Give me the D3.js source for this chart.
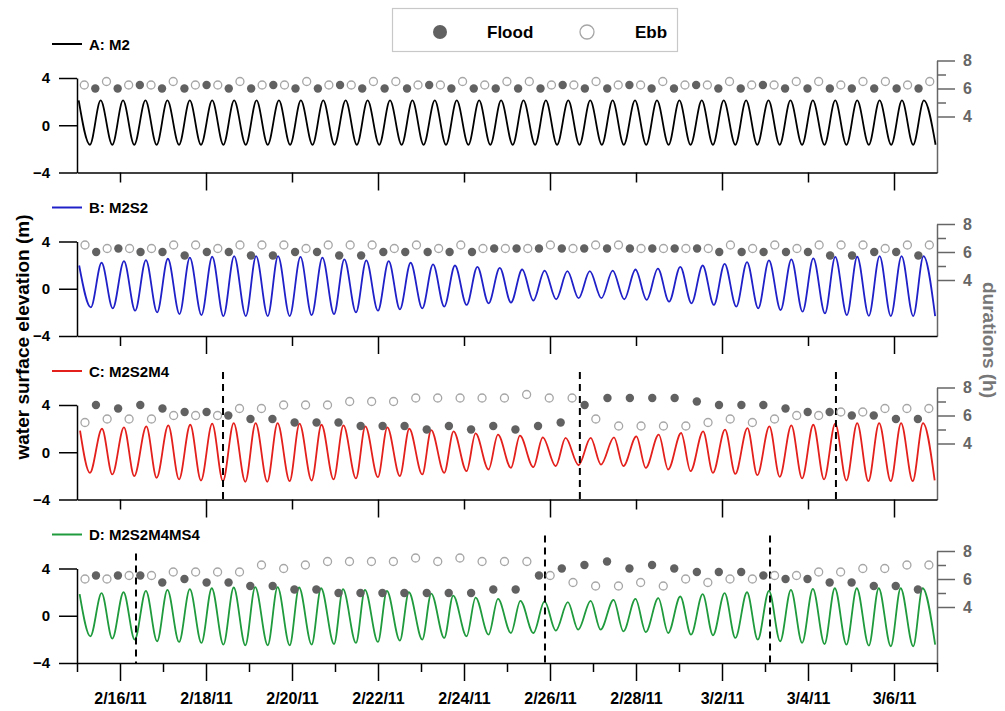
<!DOCTYPE html>
<html>
<head>
<meta charset="utf-8">
<script src="https://cdn.jsdelivr.net/npm/d3@7"></script>
<style>
  body { margin: 0; background: #fff; }
  text { font-family: "Liberation Sans", Arial, sans-serif; font-weight: bold; }
</style>
</head>
<body>
<div id="chart"></div>
<script>
// ---- data ----
var panelLabels = ['A: M2', 'B: M2S2', 'C: M2S2M4', 'D: M2S2M4MS4'];
var dateDomain = ['2011-02-15T00:00', '2011-03-07T00:00'];
var tickDates = ['2011-02-16', '2011-02-18', '2011-02-20', '2011-02-22', '2011-02-24',
                 '2011-02-26', '2011-02-28', '2011-03-02', '2011-03-04', '2011-03-06'];
var tickLabels = ['2/16/11', '2/18/11', '2/20/11', '2/22/11', '2/24/11',
                  '2/26/11', '2/28/11', '3/2/11', '3/4/11', '3/6/11'];
var elevTicks = [-4, 0, 4];
var durMajor = [4, 6, 8];
var durMinor = [5, 7];

// time of the first high water in each panel
var firstHigh = ['2011-02-15T00:57', '2011-02-15T01:13', '2011-02-15T01:42', '2011-02-15T01:28'];

// ebb / flood durations (h)
var ebbA = [6.25, 6.5, 6.25, 6.25, 6.5, 6.25, 6.25, 6.5, 6.25, 6.25, 6.5, 6.25, 6.25, 6.5, 6.5, 6.25, 6.25, 6.5, 6.25,
            6.5, 6.5, 6.25, 6.25, 6.5, 6.25, 6.25, 6.5, 6.25, 6.25, 6.5, 6.25, 6.25, 6.5, 6.5, 6.25, 6.5, 6.5, 6.25, 6.5];
var floodA = [6.0, 6.0, 6.25, 6.0, 6.0, 6.25, 6.0, 6.0, 6.25, 6.0, 6.0, 6.25, 6.0, 6.0, 6.0, 6.25, 6.0, 6.0, 6.0,
              6.0, 6.0, 6.25, 6.0, 6.0, 6.25, 6.0, 6.0, 6.25, 6.0, 6.0, 6.25, 6.0, 6.0, 6.0, 6.0, 6.0, 6.0, 6.0];
var ebbB = [6.5, 6.25, 6.25, 6.25, 6.5, 6.5, 6.25, 6.5, 6.5, 6.5, 6.25, 6.5, 6.5, 6.5, 6.25, 6.5, 6.25, 6.5, 6.25, 6.25,
            6.25, 6.5, 6.25, 6.5, 6.5, 6.25, 6.25, 6.25, 6.25, 6.5, 6.25, 6.5, 6.25, 6.5, 6.5, 6.5, 6.25, 6.5, 6.5];
var floodB = [6.0, 6.25, 6.0, 6.0, 5.75, 6.0, 6.0, 5.75, 5.75, 6.0, 6.0, 5.75, 5.75, 6.0, 6.0, 6.0, 6.0, 6.0, 6.25,
              6.25, 6.25, 6.25, 6.25, 6.25, 6.25, 6.25, 6.25, 6.25, 6.0, 6.0, 6.0, 6.0, 6.0, 5.75, 5.75, 6.0, 6.0, 5.75];
var ebbC = [5.5, 5.75, 5.75, 5.75, 6.0, 6.0, 6.0, 6.5, 6.5, 6.75, 6.75, 6.75, 7.0, 7.0, 7.0, 7.25, 7.25, 7.25, 7.25, 7.25,
            7.5, 7.25, 7.25, 5.75, 5.25, 5.25, 5.25, 5.25, 5.5, 5.75, 5.5, 5.75, 6.0, 6.0, 6.25, 6.25, 6.5, 6.5, 6.5];
var floodC = [6.75, 6.5, 6.75, 6.5, 6.25, 6.25, 6.0, 5.75, 5.75, 5.5, 5.5, 5.5, 5.25, 5.25, 5.25, 5.0, 5.25, 5.0, 5.25,
              5.0, 5.25, 5.5, 6.75, 7.25, 7.25, 7.25, 7.25, 7.0, 6.75, 6.75, 6.75, 6.5, 6.25, 6.25, 6.0, 6.0, 5.75, 5.75];
var ebbD = [6.0, 6.0, 6.25, 6.25, 6.5, 6.5, 6.5, 6.5, 7.0, 6.75, 7.0, 7.25, 7.25, 7.25, 7.25, 7.5, 7.25, 7.5, 7.25, 7.25,
            7.25, 6.25, 5.75, 5.5, 5.5, 5.75, 5.5, 6.0, 5.75, 6.0, 6.0, 6.25, 6.25, 6.5, 6.5, 6.75, 6.75, 7.0, 7.0];
var floodD = [6.25, 6.25, 6.25, 5.75, 6.0, 5.75, 5.75, 5.5, 5.5, 5.25, 5.25, 5.0, 5.0, 5.0, 5.0, 5.0, 5.0, 5.0, 5.25,
              5.25, 6.25, 6.75, 7.0, 7.25, 6.75, 7.0, 6.75, 6.5, 6.5, 6.5, 6.25, 6.0, 6.0, 5.75, 5.75, 5.5, 5.5, 5.25];

// high / low water levels (m)
var highA = [2.1, 2.1, 2.1, 2.1, 2.1, 2.1, 2.1, 2.1, 2.1, 2.1, 2.1, 2.1, 2.1, 2.1, 2.1, 2.1, 2.1, 2.1, 2.1, 2.1,
             2.1, 2.1, 2.1, 2.1, 2.1, 2.1, 2.1, 2.1, 2.1, 2.1, 2.1, 2.1, 2.1, 2.1, 2.1, 2.1, 2.1, 2.1, 2.1];
var lowA = [-1.65, -1.65, -1.65, -1.65, -1.65, -1.65, -1.65, -1.65, -1.65, -1.65, -1.65, -1.65, -1.65,
            -1.65, -1.65, -1.65, -1.65, -1.65, -1.65, -1.65, -1.65, -1.65, -1.65, -1.65, -1.65, -1.65,
            -1.65, -1.65, -1.65, -1.65, -1.65, -1.65, -1.65, -1.65, -1.65, -1.65, -1.65, -1.65, -1.65];
var highB = [1.97, 2.2, 2.34, 2.43, 2.54, 2.63, 2.71, 2.77, 2.77, 2.77, 2.69, 2.63, 2.49, 2.4, 2.34, 2.2, 2.06, 1.97, 1.86, 1.77,
             1.63, 1.54, 1.49, 1.49, 1.54, 1.63, 1.71, 1.86, 1.97, 2.11, 2.26, 2.4, 2.49, 2.57, 2.69, 2.71, 2.77, 2.77, 2.77];
var lowB = [-1.57, -1.66, -1.86, -2.0, -2.14, -2.23, -2.31, -2.31, -2.31, -2.31, -2.23, -2.14, -2.0, -1.86, -1.74, -1.66,
            -1.51, -1.37, -1.23, -1.17, -1.0, -0.89, -0.8, -0.8, -0.89, -0.94, -1.09, -1.23, -1.37, -1.51, -1.66, -1.8,
            -1.94, -2.09, -2.23, -2.29, -2.31, -2.31, -2.31];
var highC = [1.83, 1.99, 2.11, 2.19, 2.28, 2.33, 2.42, 2.47, 2.47, 2.47, 2.42, 2.33, 2.28, 2.19, 2.11, 1.99, 1.88, 1.77, 1.6, 1.49,
             1.4, 1.26, 1.21, 1.21, 1.26, 1.35, 1.49, 1.63, 1.77, 1.91, 2.05, 2.19, 2.28, 2.33, 2.42, 2.47, 2.47, 2.47, 2.47];
var lowC = [-1.74, -1.88, -2.02, -2.16, -2.3, -2.39, -2.44, -2.5, -2.5, -2.44, -2.39, -2.3, -2.22, -2.11, -2.02, -1.88,
            -1.74, -1.6, -1.46, -1.32, -1.26, -1.18, -1.1, -1.04, -1.18, -1.32, -1.46, -1.6, -1.74, -1.83, -1.94, -2.08,
            -2.22, -2.3, -2.39, -2.44, -2.44, -2.44, -2.39];
var highD = [1.83, 1.91, 1.99, 2.11, 2.19, 2.25, 2.33, 2.39, 2.42, 2.42, 2.39, 2.33, 2.25, 2.19, 2.11, 1.99, 1.88, 1.71, 1.54, 1.43,
             1.26, 1.21, 1.15, 1.26, 1.35, 1.43, 1.49, 1.63, 1.83, 1.91, 1.99, 2.11, 2.19, 2.28, 2.33, 2.33, 2.33, 2.33, 2.33];
var lowD = [-1.74, -1.94, -2.02, -2.16, -2.22, -2.3, -2.44, -2.5, -2.5, -2.5, -2.44, -2.39, -2.3, -2.22, -2.11, -2.02,
            -1.88, -1.74, -1.6, -1.46, -1.46, -1.26, -1.18, -1.18, -1.32, -1.38, -1.46, -1.6, -1.66, -1.88, -2.02, -2.16,
            -2.3, -2.39, -2.44, -2.53, -2.58, -2.58, -2.44];

// times where flood and ebb durations swap (dashed lines)
var crossC = ['2011-02-18T09:30', '2011-02-26T16:40', '2011-03-04T15:36'];
var crossD = ['2011-02-16T08:56', '2011-02-25T21:12', '2011-03-03T02:48'];

var ebbs = [ebbA, ebbB, ebbC, ebbD];
var floods = [floodA, floodB, floodC, floodD];
var highs = [highA, highB, highC, highD];
var lows = [lowA, lowB, lowC, lowD];
var crossings = [[], [], crossC, crossD];

// ---- styling ----
var lineColors = ['#000000', '#2020c8', '#e3201c', '#1f9a3c'];
var floodColor = '#616161';
var ebbColor = '#a6a6a6';
var greyAxis = '#666666';

var parseT = d3.timeParse('%Y-%m-%dT%H:%M');
var parseD = d3.timeParse('%Y-%m-%d');
var HOUR = 3600 * 1000;

var svg = d3.select('#chart').append('svg')
    .attr('width', 1005)
    .attr('height', 711);

var x = d3.scaleTime()
    .domain(dateDomain.map(parseT))
    .range([77, 937]);

var panelTops = [78, 241.5, 405, 568.5];
var panelH = 94.5;

svg.append('defs').append('clipPath').attr('id', 'plotclip')
    .append('rect')
    .attr('x', 77).attr('y', 0)
    .attr('width', 860).attr('height', 711);

var majorDates = tickDates.map(parseD);
var allDays = d3.timeDay.range(x.domain()[0], d3.timeDay.offset(x.domain()[1], 1));
var minorDates = allDays.filter(function(d) {
    return !majorDates.some(function(m) { return +m === +d; });
});

function styleAxis(g, color) {
    g.selectAll('.domain').attr('stroke', color).attr('stroke-width', 1.5);
    g.selectAll('.tick line').attr('stroke', color).attr('stroke-width', 1.5);
    g.selectAll('.tick text').attr('fill', color);
}

panelLabels.forEach(function(label, p) {
    var top = panelTops[p];
    var bottom = top + panelH;
    var g = svg.append('g');

    var yL = d3.scaleLinear().domain([-4, 4]).range([bottom, top]);
    var yR = d3.scaleLinear().domain([0, 8]).range([bottom, top - 17.5]);

    // extrema sequence from the durations
    var pts = [], ebbDots = [], floodDots = [];
    var t = +parseT(firstHigh[p]);
    highs[p].forEach(function(h, i) {
        pts.push({ t: new Date(t), v: h });
        var tl = t + ebbs[p][i] * HOUR;
        ebbDots.push({ t: new Date((t + tl) / 2), d: ebbs[p][i] });
        pts.push({ t: new Date(tl), v: lows[p][i] });
        if (i < floods[p].length) {
            var tn = tl + floods[p][i] * HOUR;
            floodDots.push({ t: new Date((tl + tn) / 2), d: floods[p][i] });
            t = tn;
        }
    });

    // axes
    var gl = g.append('g').attr('transform', 'translate(77,0)')
        .call(d3.axisLeft(yL).tickValues(elevTicks).tickSize(18).tickSizeOuter(0).tickPadding(9));
    gl.selectAll('.tick text').attr('font-size', 15).attr('font-weight', 'bold')
        .attr('font-family', '"Liberation Sans", Arial, sans-serif');
    styleAxis(gl, '#000');

    var gr = g.append('g').attr('transform', 'translate(937,0)')
        .call(d3.axisRight(yR).tickValues(durMajor).tickSize(18).tickSizeOuter(0).tickPadding(8));
    gr.selectAll('.tick text').attr('font-size', 16).attr('font-weight', 'bold')
        .attr('font-family', '"Liberation Sans", Arial, sans-serif');
    styleAxis(gr, greyAxis);
    var gr2 = g.append('g').attr('transform', 'translate(937,0)')
        .call(d3.axisRight(yR).tickValues(durMinor).tickSize(9).tickSizeOuter(0).tickFormat(''));
    gr2.select('.domain').remove();
    styleAxis(gr2, greyAxis);

    var gb, gb2;
    if (p === 3) {
        gb = g.append('g').attr('transform', 'translate(0,' + bottom + ')')
            .call(d3.axisBottom(x).tickValues(majorDates).tickSize(18).tickSizeOuter(0).tickPadding(12)
                .tickFormat(function(d, i) { return tickLabels[i]; }));
        gb.selectAll('.tick text').attr('font-size', 16).attr('font-weight', 'bold')
            .attr('font-family', '"Liberation Sans", Arial, sans-serif');
        gb2 = g.append('g').attr('transform', 'translate(0,' + bottom + ')')
            .call(d3.axisBottom(x).tickValues(minorDates).tickSize(9).tickSizeOuter(0).tickFormat(''));
    } else {
        gb = g.append('g').attr('transform', 'translate(0,' + bottom + ')')
            .call(d3.axisBottom(x).tickValues(majorDates.filter(function(d, i) { return i % 2 === 1; }))
                .tickSize(18).tickSizeOuter(0).tickFormat(''));
        gb2 = g.append('g').attr('transform', 'translate(0,' + bottom + ')')
            .call(d3.axisBottom(x).tickValues(majorDates.filter(function(d, i) { return i % 2 === 0; }))
                .tickSize(10).tickSizeOuter(0).tickFormat(''));
    }
    gb2.select('.domain').remove();
    styleAxis(gb, '#000');
    styleAxis(gb2, '#000');

    // water level curve
    g.append('path')
        .datum(pts)
        .attr('clip-path', 'url(#plotclip)')
        .attr('fill', 'none')
        .attr('stroke', lineColors[p])
        .attr('stroke-width', 1.8)
        .attr('d', d3.line()
            .x(function(d) { return x(d.t); })
            .y(function(d) { return yL(d.v); })
            .curve(d3.curveMonotoneX));

    // dashed crossing lines
    g.selectAll('line.cross')
        .data(crossings[p].map(parseT))
        .enter()
        .append('line')
        .attr('class', 'cross')
        .attr('x1', function(d) { return x(d); })
        .attr('x2', function(d) { return x(d); })
        .attr('y1', function(d) { return x(d) < 215 ? top - 15 : top - 33; })
        .attr('y2', bottom)
        .attr('stroke', '#000')
        .attr('stroke-width', 2)
        .attr('stroke-dasharray', '7,5');

    // duration dots
    g.selectAll('circle.ebb')
        .data(ebbDots)
        .enter()
        .append('circle')
        .attr('class', 'ebb')
        .attr('cx', function(d) { return x(d.t); })
        .attr('cy', function(d) { return yR(d.d); })
        .attr('r', 4)
        .attr('fill', 'none')
        .attr('stroke', ebbColor)
        .attr('stroke-width', 1.3);

    g.selectAll('circle.flood')
        .data(floodDots)
        .enter()
        .append('circle')
        .attr('class', 'flood')
        .attr('cx', function(d) { return x(d.t); })
        .attr('cy', function(d) { return yR(d.d); })
        .attr('r', 4.2)
        .attr('fill', floodColor);

    // panel label
    g.append('line')
        .attr('x1', 52).attr('x2', 82)
        .attr('y1', top - 34).attr('y2', top - 34)
        .attr('stroke', lineColors[p])
        .attr('stroke-width', 2);
    g.append('text')
        .attr('x', 89)
        .attr('y', top - 28.5)
        .attr('font-size', 15)
        .attr('fill', '#000')
        .text(label);
});

// legend
var leg = svg.append('g');
leg.append('rect')
    .attr('x', 392.5).attr('y', 8.5)
    .attr('width', 285).attr('height', 43)
    .attr('fill', '#fff')
    .attr('stroke', '#c8c8c8')
    .attr('stroke-width', 1.2);
leg.append('circle').attr('cx', 440).attr('cy', 32).attr('r', 7).attr('fill', floodColor);
leg.append('text').attr('x', 487).attr('y', 38).attr('font-size', 17).text('Flood');
leg.append('circle').attr('cx', 587).attr('cy', 32).attr('r', 7)
    .attr('fill', '#fff').attr('stroke', ebbColor).attr('stroke-width', 1.3);
leg.append('text').attr('x', 635).attr('y', 38).attr('font-size', 17).text('Ebb');

// axis titles
svg.append('text')
    .attr('transform', 'translate(22,337) rotate(-90)')
    .attr('text-anchor', 'middle')
    .attr('dy', '0.35em')
    .attr('font-size', 19)
    .attr('fill', '#000')
    .text('water surface elevation (m)');

svg.append('text')
    .attr('transform', 'translate(990,340) rotate(90)')
    .attr('text-anchor', 'middle')
    .attr('dy', '0.35em')
    .attr('font-size', 19)
    .attr('fill', '#777')
    .text('durations (h)');
</script>
</body>
</html>
